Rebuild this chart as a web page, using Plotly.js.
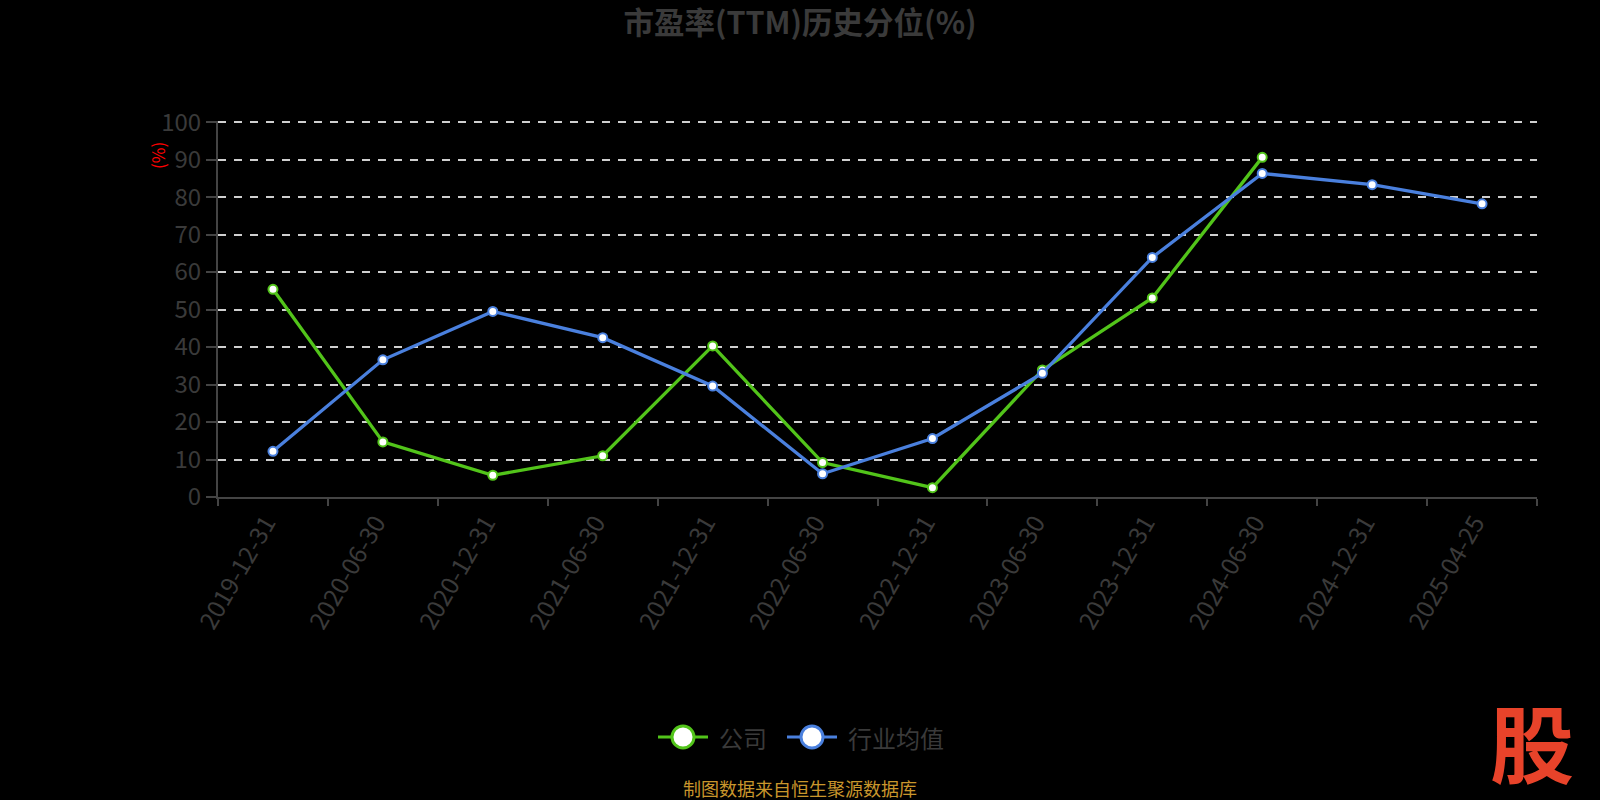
<!DOCTYPE html>
<html>
<head>
<meta charset="utf-8">
<script src="https://cdn.plot.ly/plotly-3.0.1.min.js"></script>
<style>
html,body{margin:0;padding:0;background:#000;}
#chart{width:1600px;height:800px;}
</style>
</head>
<body>
<div id="chart"></div>
<script>
const categories = ["2019-12-31","2020-06-30","2020-12-31","2021-06-30","2021-12-31","2022-06-30","2022-12-31","2023-06-30","2023-12-31","2024-06-30","2024-12-31","2025-04-25"];
const companyValues = [55.4, 14.7, 5.8, 11.0, 40.3, 9.2, 2.5, 33.9, 53.1, 90.6, null, null];
const industryValues = [12.2, 36.6, 49.5, 42.5, 29.6, 6.2, 15.6, 33.0, 63.9, 86.3, 83.3, 78.2];
const yTicks = [0,10,20,30,40,50,60,70,80,90,100];
const seriesNames = ["公司", "行业均值"];

const GREEN = "#52c41a";
const BLUE = "#4a80de";
const FONT = "Noto Sans CJK SC, sans-serif";
const TXT = "#3a3a3a";

const W = 1600, H = 800;
const L = 218, R = 63, T = 121, B = 303;
const PW = W - L - R, PH = H - T - B;
const px = x => (x - L) / PW;
const py = y => (H - B - y) / PH;

const traces = [
  {
    x: categories, y: companyValues, name: seriesNames[0], type: "scatter", mode: "lines+markers",
    line: {color: GREEN, width: 3.3}, connectgaps: false,
    marker: {size: 9, color: "#ffffff", line: {color: GREEN, width: 2}},
    showlegend: false, hoverinfo: "x+y"
  },
  {
    x: categories, y: industryValues, name: seriesNames[1], type: "scatter", mode: "lines+markers",
    line: {color: BLUE, width: 3.3},
    marker: {size: 9, color: "#ffffff", line: {color: BLUE, width: 2}},
    showlegend: false, hoverinfo: "x+y"
  }
];

const legendItems = [
  {color: GREEN, cx: 683, tx: 717, label: seriesNames[0]},
  {color: BLUE, cx: 812, tx: 846, label: seriesNames[1]}
];
const legY = 737;

const shapes = [];
const annotations = [];
legendItems.forEach(it => {
  shapes.push({type: "line", xref: "paper", yref: "paper", xsizemode: "pixel", ysizemode: "pixel",
    xanchor: px(it.cx), yanchor: py(legY), x0: -25, x1: 25, y0: 0, y1: 0,
    line: {color: it.color, width: 3}});
  shapes.push({type: "circle", xref: "paper", yref: "paper", xsizemode: "pixel", ysizemode: "pixel",
    xanchor: px(it.cx), yanchor: py(legY), x0: -11, x1: 11, y0: -11, y1: 11,
    fillcolor: "#ffffff", line: {color: it.color, width: 3}});
  annotations.push({xref: "paper", yref: "paper", x: px(it.tx), y: py(legY), xanchor: "left", yanchor: "middle",
    text: it.label, showarrow: false, font: {family: FONT, size: 24, color: TXT}});
});

annotations.push({xref: "paper", yref: "paper", x: px(157), y: py(156), xanchor: "center", yanchor: "middle",
  text: "(%)", textangle: -90, showarrow: false, font: {family: FONT, size: 17, color: "#ff0000"}});
annotations.push({xref: "paper", yref: "paper", x: px(800), y: py(788), xanchor: "center", yanchor: "middle",
  text: "制图数据来自恒生聚源数据库", showarrow: false, font: {family: FONT, size: 18, color: "#c9962c"}});
annotations.push({xref: "paper", yref: "paper", x: px(1532), y: py(740), xanchor: "center", yanchor: "middle",
  text: "<b>股</b>", showarrow: false, borderpad: 0, font: {family: FONT, size: 84, color: "#e8432a", weight: 900}});

const layout = {
  width: W, height: H,
  paper_bgcolor: "#000000", plot_bgcolor: "#000000",
  margin: {l: L, r: R, t: T, b: B},
  title: {text: "<b>市盈率(TTM)历史分位(%)</b>", x: 0.5, xref: "container", xanchor: "center",
    y: 1 - 23/H, yref: "container", yanchor: "middle",
    font: {family: FONT, size: 30.5, color: TXT}},
  showlegend: false,
  xaxis: {
    type: "category", range: [-0.5, 11.5], tickson: "boundaries",
    showline: true, linecolor: "#444444", linewidth: 2,
    ticks: "outside", ticklen: 7, tickcolor: "#444444", tickwidth: 2,
    showgrid: false, zeroline: false,
    tickangle: -60, ticklabelshift: -7,
    tickfont: {family: FONT, size: 24.5, color: TXT}
  },
  yaxis: {
    range: [0, 100.3], tickvals: yTicks, ticktext: yTicks.map(String),
    showline: true, linecolor: "#444444", linewidth: 2,
    ticks: "outside", ticklen: 10, tickcolor: "#444444", tickwidth: 2,
    showgrid: true, gridcolor: "#cfcfcf", gridwidth: 2, griddash: "8px,8px",
    zeroline: false,
    tickfont: {family: FONT, size: 24, color: TXT}
  },
  shapes: shapes,
  annotations: annotations
};

Plotly.newPlot("chart", traces, layout, {displayModeBar: false, staticPlot: true});
</script>
</body>
</html>
